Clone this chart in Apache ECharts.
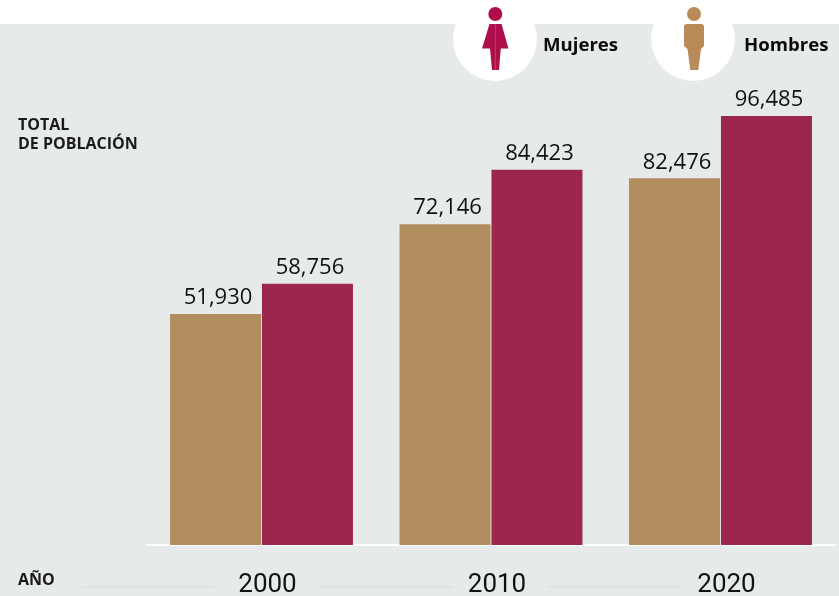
<!DOCTYPE html>
<html>
<head>
<meta charset="utf-8">
<title>Total de población</title>
<style>
  html, body { margin: 0; padding: 0; background: #fff; }
  #main { width: 839px; height: 596px; }
</style>
</head>
<body>
<div id="main"></div>
<script src="https://cdn.jsdelivr.net/npm/echarts@6/dist/echarts.min.js"></script>
<script>
var years = ['2000', '2010', '2020'];
var hombres = [51930, 72146, 82476];
var mujeres = [58756, 84423, 96485];
var maxValue = 96485;

var chart = echarts.init(document.getElementById('main'), null, { renderer: 'canvas' });

var labelStyle = {
  show: true,
  position: 'top',
  distance: 5,
  offset: [2.5, 0],
  fontFamily: '"Open Sans"',
  fontSize: 22,
  color: '#111',
  formatter: function (p) { return p.value.toLocaleString('en-US'); }
};

function rule(x1, x2) {
  return { type: 'line', z: 1, shape: { x1: x1, y1: 587, x2: x2, y2: 587 }, style: { stroke: '#dfe1e3', lineWidth: 2 } };
}
function legendText(txt, x) {
  return { type: 'text', z: 3, x: x, y: 46, style: { text: txt, fontFamily: '"Open Sans"', fontWeight: 'bold', fontSize: 18.6, fill: '#0a0a0a', textVerticalAlign: 'middle' } };
}
function icon(points, color) {
  return { type: 'polygon', z: 3, shape: { points: points }, style: { fill: color } };
}

chart.setOption({
  animation: false,
  // outerBoundsMode none: si no, v6 encoge el grid para que quepan las etiquetas del eje
  grid: { left: 146.75, right: 3.75, top: 116, bottom: 51, outerBoundsMode: 'none' },
  xAxis: {
    type: 'category',
    data: years,
    axisLine: { show: true, lineStyle: { color: '#ffffff', width: 2 } },
    axisTick: { show: false },
    axisLabel: { margin: 27, padding: [0, 0, 0, 12], fontFamily: 'Roboto', fontSize: 26, color: '#111' }
  },
  yAxis: { type: 'value', min: 0, max: maxValue, show: false },
  series: [
    { name: 'Hombres', type: 'bar', data: hombres, barWidth: 91, barGap: '1%', itemStyle: { color: '#b28e5e' }, label: labelStyle },
    { name: 'Mujeres', type: 'bar', data: mujeres, barWidth: 91, itemStyle: { color: '#9d264c' }, label: labelStyle }
  ],
  graphic: [
    // fondo gris, deja libre la franja blanca de arriba
    { type: 'rect', z: -10, shape: { x: 0, y: 24, width: 839, height: 572 }, style: { fill: '#e7eaeb' } },
    { type: 'circle', z: -5, shape: { cx: 495, cy: 39, r: 42 }, style: { fill: '#fff' } },
    { type: 'circle', z: -5, shape: { cx: 693, cy: 39, r: 42 }, style: { fill: '#fff' } },

    // mujer
    { type: 'circle', z: 3, shape: { cx: 495.3, cy: 14, r: 7 }, style: { fill: '#ae0f4b' } },
    icon([[489.5, 24], [501.5, 24], [508.5, 48.5], [500.8, 48.5], [499, 70], [492, 70], [490, 48.5], [482, 48.5]], '#ae0f4b'),
    { type: 'line', z: 4, shape: { x1: 495.3, y1: 24, x2: 495.3, y2: 70 }, style: { stroke: 'rgba(255,255,255,0.35)', lineWidth: 0.6 } },

    // hombre
    { type: 'circle', z: 3, shape: { cx: 694, cy: 14, r: 7 }, style: { fill: '#b88b58' } },
    { type: 'rect', z: 3, shape: { x: 684, y: 24, width: 20, height: 21, r: [3, 3, 0, 0] }, style: { fill: '#b88b58' } },
    icon([[684, 44], [704, 44], [704, 46], [701, 49], [698.3, 70], [690.3, 70], [687.5, 49], [684, 46]], '#b88b58'),

    legendText('Mujeres', 543),
    legendText('Hombres', 744),

    { type: 'text', z: 3, x: 18, y: 116, style: { text: 'TOTAL\nDE POBLACIÓN', fontFamily: '"Open Sans"', fontWeight: 'bold', fontSize: 16, lineHeight: 19, fill: '#1a1a1a' } },
    { type: 'text', z: 3, x: 18, y: 580, style: { text: 'AÑO', fontFamily: '"Open Sans"', fontWeight: 'bold', fontSize: 16, fill: '#1a1a1a', textVerticalAlign: 'middle' } },

    rule(82, 215),
    rule(319, 453),
    rule(548, 682)
  ]
});
</script>
</body>
</html>
